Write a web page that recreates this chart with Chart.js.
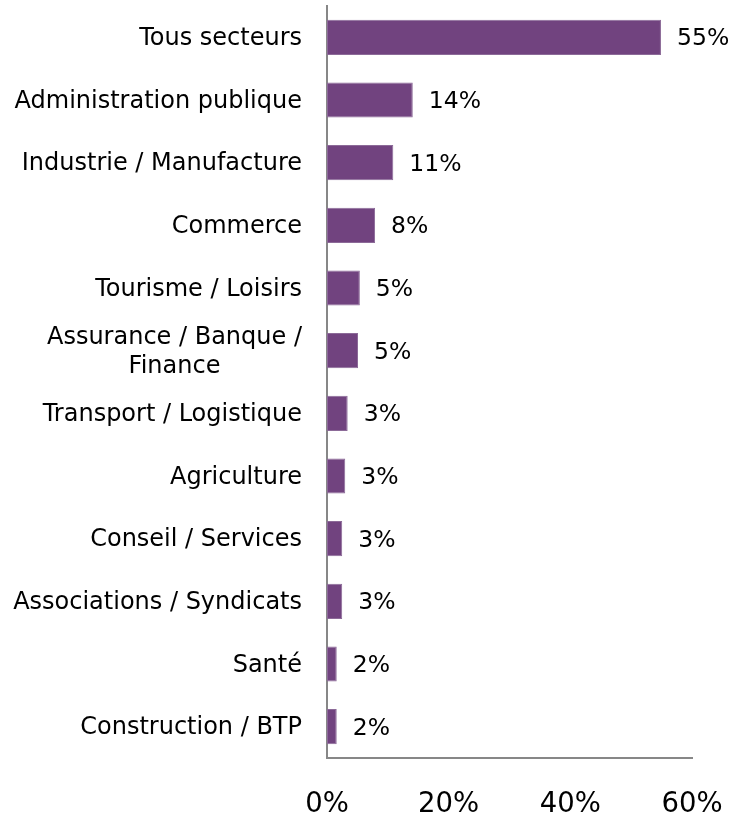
<!DOCTYPE html>
<html>
<head>
<meta charset="utf-8">
<script src="https://cdn.jsdelivr.net/npm/chart.js@4"></script>
<style>
  html, body { margin: 0; padding: 0; background: #fff; }
  #wrap { width: 733px; height: 815px; position: relative; }
</style>
</head>
<body>
<div id="wrap"><canvas id="sectorChart"></canvas></div>
<script>
const categories = [
  'Tous secteurs',
  'Administration publique',
  'Industrie / Manufacture',
  'Commerce',
  'Tourisme / Loisirs',
  ['Assurance / Banque /', 'Finance'],
  'Transport / Logistique',
  'Agriculture',
  'Conseil / Services',
  'Associations / Syndicats',
  'Santé',
  'Construction / BTP'
];
const shares = [54.9, 14.1, 10.9, 7.9, 5.4, 5.1, 3.4, 3.0, 2.5, 2.5, 1.6, 1.6];
const shareLabels = ['55%', '14%', '11%', '8%', '5%', '5%', '3%', '3%', '3%', '3%', '2%', '2%'];
const axisMax = 60;
const axisStep = 20;

const FONT = "'DejaVu Sans', Verdana, sans-serif";

// category names drawn by hand so the two-line label is centred like the original
const categoryLabels = {
  id: 'categoryLabels',
  afterDraw(chart) {
    const ctx = chart.ctx;
    const yScale = chart.scales.y;
    const right = chart.chartArea.left - 25;
    const lineH = 29;
    ctx.save();
    ctx.font = `24px ${FONT}`;
    ctx.fillStyle = '#000';
    ctx.textBaseline = 'middle';
    categories.forEach((label, i) => {
      const y = yScale.getPixelForTick(i) + 1.5;
      const lines = Array.isArray(label) ? label : [label];
      const maxW = Math.max(...lines.map(l => ctx.measureText(l).width));
      const top = y - (lines.length - 1) * lineH / 2;
      lines.forEach((line, j) => {
        if (lines.length > 1) {
          ctx.textAlign = 'center';
          ctx.fillText(line, right - maxW / 2, top + j * lineH);
        } else {
          ctx.textAlign = 'right';
          ctx.fillText(line, right, top);
        }
      });
    });
    ctx.restore();
  }
};

// value labels to the right of each bar
const valueLabels = {
  id: 'valueLabels',
  afterDatasetsDraw(chart) {
    const ctx = chart.ctx;
    const meta = chart.getDatasetMeta(0);
    ctx.save();
    ctx.font = `23.5px ${FONT}`;
    ctx.fillStyle = '#000';
    ctx.textAlign = 'left';
    ctx.textBaseline = 'middle';
    meta.data.forEach((bar, i) => {
      ctx.fillText(shareLabels[i], bar.x + 16, bar.y + 2);
    });
    ctx.restore();
  }
};

const ctx = document.getElementById('sectorChart').getContext('2d');
new Chart(ctx, {
  type: 'bar',
  data: {
    labels: categories,
    datasets: [{
      data: shares,
      backgroundColor: '#71437f',
      borderColor: '#8c6a98',
      borderWidth: 1,
      borderSkipped: false,
      categoryPercentage: 1,
      barPercentage: 0.56
    }]
  },
  options: {
    indexAxis: 'y',
    responsive: true,
    maintainAspectRatio: false,
    animation: false,
    layout: { padding: { top: 6, right: 41, bottom: 0, left: 0 } },
    plugins: {
      legend: { display: false },
      tooltip: { enabled: false }
    },
    scales: {
      x: {
        min: 0,
        max: axisMax,
        ticks: {
          stepSize: axisStep,
          padding: 30,
          color: '#000',
          font: { family: FONT, size: 27.5 },
          callback: v => v + '%'
        },
        grid: { display: false, drawTicks: false },
        border: { display: true, color: '#878787', width: 2 },
        afterFit: scale => {
          scale.height = 57;
          scale.paddingLeft = 0;
          scale.paddingRight = 0;
        }
      },
      y: {
        ticks: { display: false },
        grid: { display: false, drawTicks: false },
        border: { display: true, color: '#878787', width: 2 },
        afterFit: scale => { scale.width = 327; }
      }
    }
  },
  plugins: [categoryLabels, valueLabels]
});
</script>
</body>
</html>
